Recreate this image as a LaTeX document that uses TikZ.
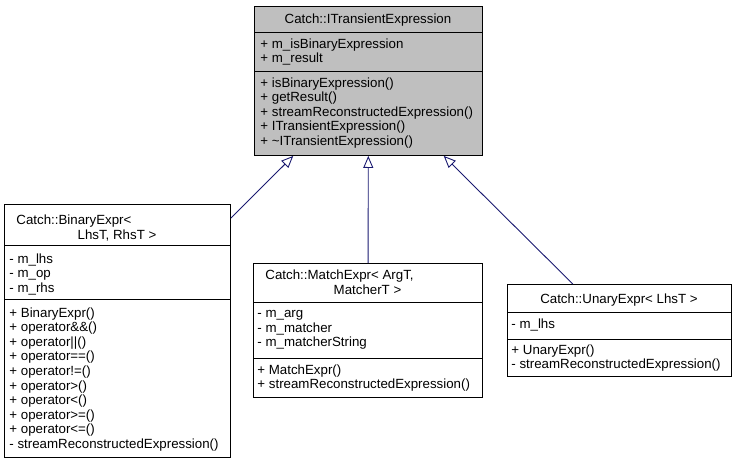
\documentclass[tikz,border=0pt]{standalone}
\usepackage{fontspec}
\setmainfont{Liberation Sans}
\usetikzlibrary{arrows.meta}
\definecolor{edgeblue}{HTML}{191970}
\definecolor{basegray}{HTML}{BFBFBF}

\begin{document}
\begin{tikzpicture}[x = 1pt, y = -1pt, line width = 0.9pt,
		classbox/.style = {draw, rectangle, anchor = north west, inner sep = 0pt},
		member/.style = {anchor = north west, inner sep = 0pt, align = left, font = \fontsize{13.3}{14.6}\selectfont},
		title/.style = {anchor = base, inner sep = 0pt, font = \fontsize{13.3}{14.6}\selectfont},
		inherit/.style = {draw = edgeblue, {Triangle[open, length = 12pt, width = 10pt]}-}]
		\useasboundingbox (0, 0) rectangle (736, 463);
		\node[classbox, fill = basegray, minimum width = 228pt, minimum height = 149pt] (itrans) at (254, 6) {};
		\node[classbox, minimum width = 226pt, minimum height = 253pt] (binexpr) at (4, 204) {};
		\node[classbox, minimum width = 229pt, minimum height = 134pt] (matchexpr) at (253, 263) {};
		\node[classbox, minimum width = 224pt, minimum height = 92pt] (unaryexpr) at (507, 284) {};
		\draw (254, 32) -- (482, 32);
		\draw (254, 71) -- (482, 71);
		\draw (4, 245) -- (230, 245);
		\draw (4, 299) -- (230, 299);
		\draw (253, 302) -- (482, 302);
		\draw (253, 358) -- (482, 358);
		\draw (507, 312) -- (731, 312);
		\draw (507, 339) -- (731, 339);
		\node[title] (itranstitle) at (368, 23.5) {Catch::ITransientExpression};
		\node[member] (itransattr) at (260, 38) {+ m\_isBinaryExpression\\+ m\_result};
		\node[member] (itransop) at (260, 77) {+ isBinaryExpression()\\+ getResult()\\+ streamReconstructedExpression()\\+ ITransientExpression()\\+ \textasciitilde ITransientExpression()};
		\node[title, anchor = base west] (bintitle) at (16, 224) {Catch::BinaryExpr<};
		\node[title] (bintitletwo) at (117, 239) {LhsT, RhsT >};
		\node[member] (binattr) at (9, 253) {- m\_lhs\\- m\_op\\- m\_rhs};
		\node[member] (binop) at (9, 307) {+ BinaryExpr()\\+ operator\&\&()\\+ operator||()\\+ operator==()\\+ operator!=()\\+ operator>()\\+ operator<()\\+ operator>=()\\+ operator<=()\\- streamReconstructedExpression()};
		\node[title, anchor = base west] (matchtitle) at (265, 279) {Catch::MatchExpr< ArgT,};
		\node[title] (matchtitletwo) at (367.5, 294) {MatcherT >};
		\node[member] (matchattr) at (257, 310) {- m\_arg\\- m\_matcher\\- m\_matcherString};
		\node[member] (matchop) at (257, 364) {+ MatchExpr()\\+ streamReconstructedExpression()};
		\node[title] (unarytitle) at (619, 303) {Catch::UnaryExpr< LhsT >};
		\node[member] (unaryattr) at (511, 318) {- m\_lhs};
		\node[member] (unaryop) at (511, 344) {+ UnaryExpr()\\- streamReconstructedExpression()};
		\draw[inherit] (itrans) -- (binexpr);
		\draw[inherit] (itrans) -- (matchexpr);
		\draw[inherit] (itrans) -- (unaryexpr);
	\end{tikzpicture}
\end{document}
